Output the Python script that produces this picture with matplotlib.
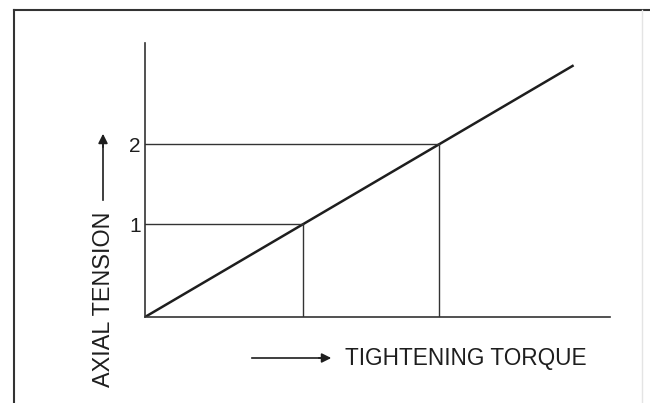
import matplotlib
matplotlib.use('Agg')
import matplotlib.pyplot as plt
from matplotlib.lines import Line2D

plt.rcParams['font.family'] = ['Liberation Sans', 'DejaVu Sans']

# straight line: axial tension grows with tightening torque
torque = [0.0, 2.71]
tension = [0.0, 2.71]
# reference levels marked on the chart (positions)
levels = [1.0, 1.86]
level_labels = ['1', '2']

ink = '#1e1e1e'

fig = plt.figure(figsize=(6.5, 4.03), dpi=100)
ax = fig.add_axes([145/650, 1-317/403, 465/650, 274/403])

ax.plot(torque, tension, color=ink, lw=1.8, solid_capstyle='butt')
for lv in levels:
    ax.plot([0, lv], [lv, lv], color='#333333', lw=1.0)   # horizontal guide
    ax.plot([lv, lv], [0, lv], color='#333333', lw=1.0)   # vertical guide

ax.set_xlim(0, 2.94)
ax.set_ylim(0, 2.95)
for s in ['top', 'right']:
    ax.spines[s].set_visible(False)
for s in ['left', 'bottom']:
    ax.spines[s].set_linewidth(1.2)
    ax.spines[s].set_color('#333333')
ax.set_xticks([])
ax.set_yticks(levels)
ax.set_yticklabels(level_labels, fontsize=15, color=ink)
ax.tick_params(axis='y', length=0, pad=3)
ax.patch.set_alpha(0)

# axis labels with arrows, like the original drawing
fig.text(345/650, 1-358/403, 'TIGHTENING TORQUE', fontsize=16.3, color=ink,
         ha='left', va='center')
fig.add_artist(Line2D([252/650, 322/650], [1-358/403, 1-358/403], color=ink, lw=1.2))
ax.annotate('', xy=(334/650, 1-358/403), xytext=(316/650, 1-358/403), xycoords='figure fraction',
            arrowprops=dict(arrowstyle='-|>', color=ink, lw=1.2, mutation_scale=14))

fig.text(103/650, 1-387/403, 'AXIAL TENSION', fontsize=16.8, color=ink,
         rotation=90, ha='center', va='bottom')
fig.add_artist(Line2D([103/650, 103/650], [1-200/403, 1-145/403], color=ink, lw=1.2))
ax.annotate('', xy=(103/650, 1-131/403), xytext=(103/650, 1-150/403), xycoords='figure fraction',
            arrowprops=dict(arrowstyle='-|>', color=ink, lw=1.2, mutation_scale=14))

# outer frame of the scanned figure
fig.add_artist(Line2D([14/650, 1], [1-10/403, 1-10/403], color='#333333', lw=1.5))
fig.add_artist(Line2D([14/650, 14/650], [0, 1-10/403], color='#333333', lw=1.5))
fig.add_artist(Line2D([642/650, 642/650], [0, 1-10/403], color='#e4e4e4', lw=1.0))

fig.savefig('out.png', dpi=100)
